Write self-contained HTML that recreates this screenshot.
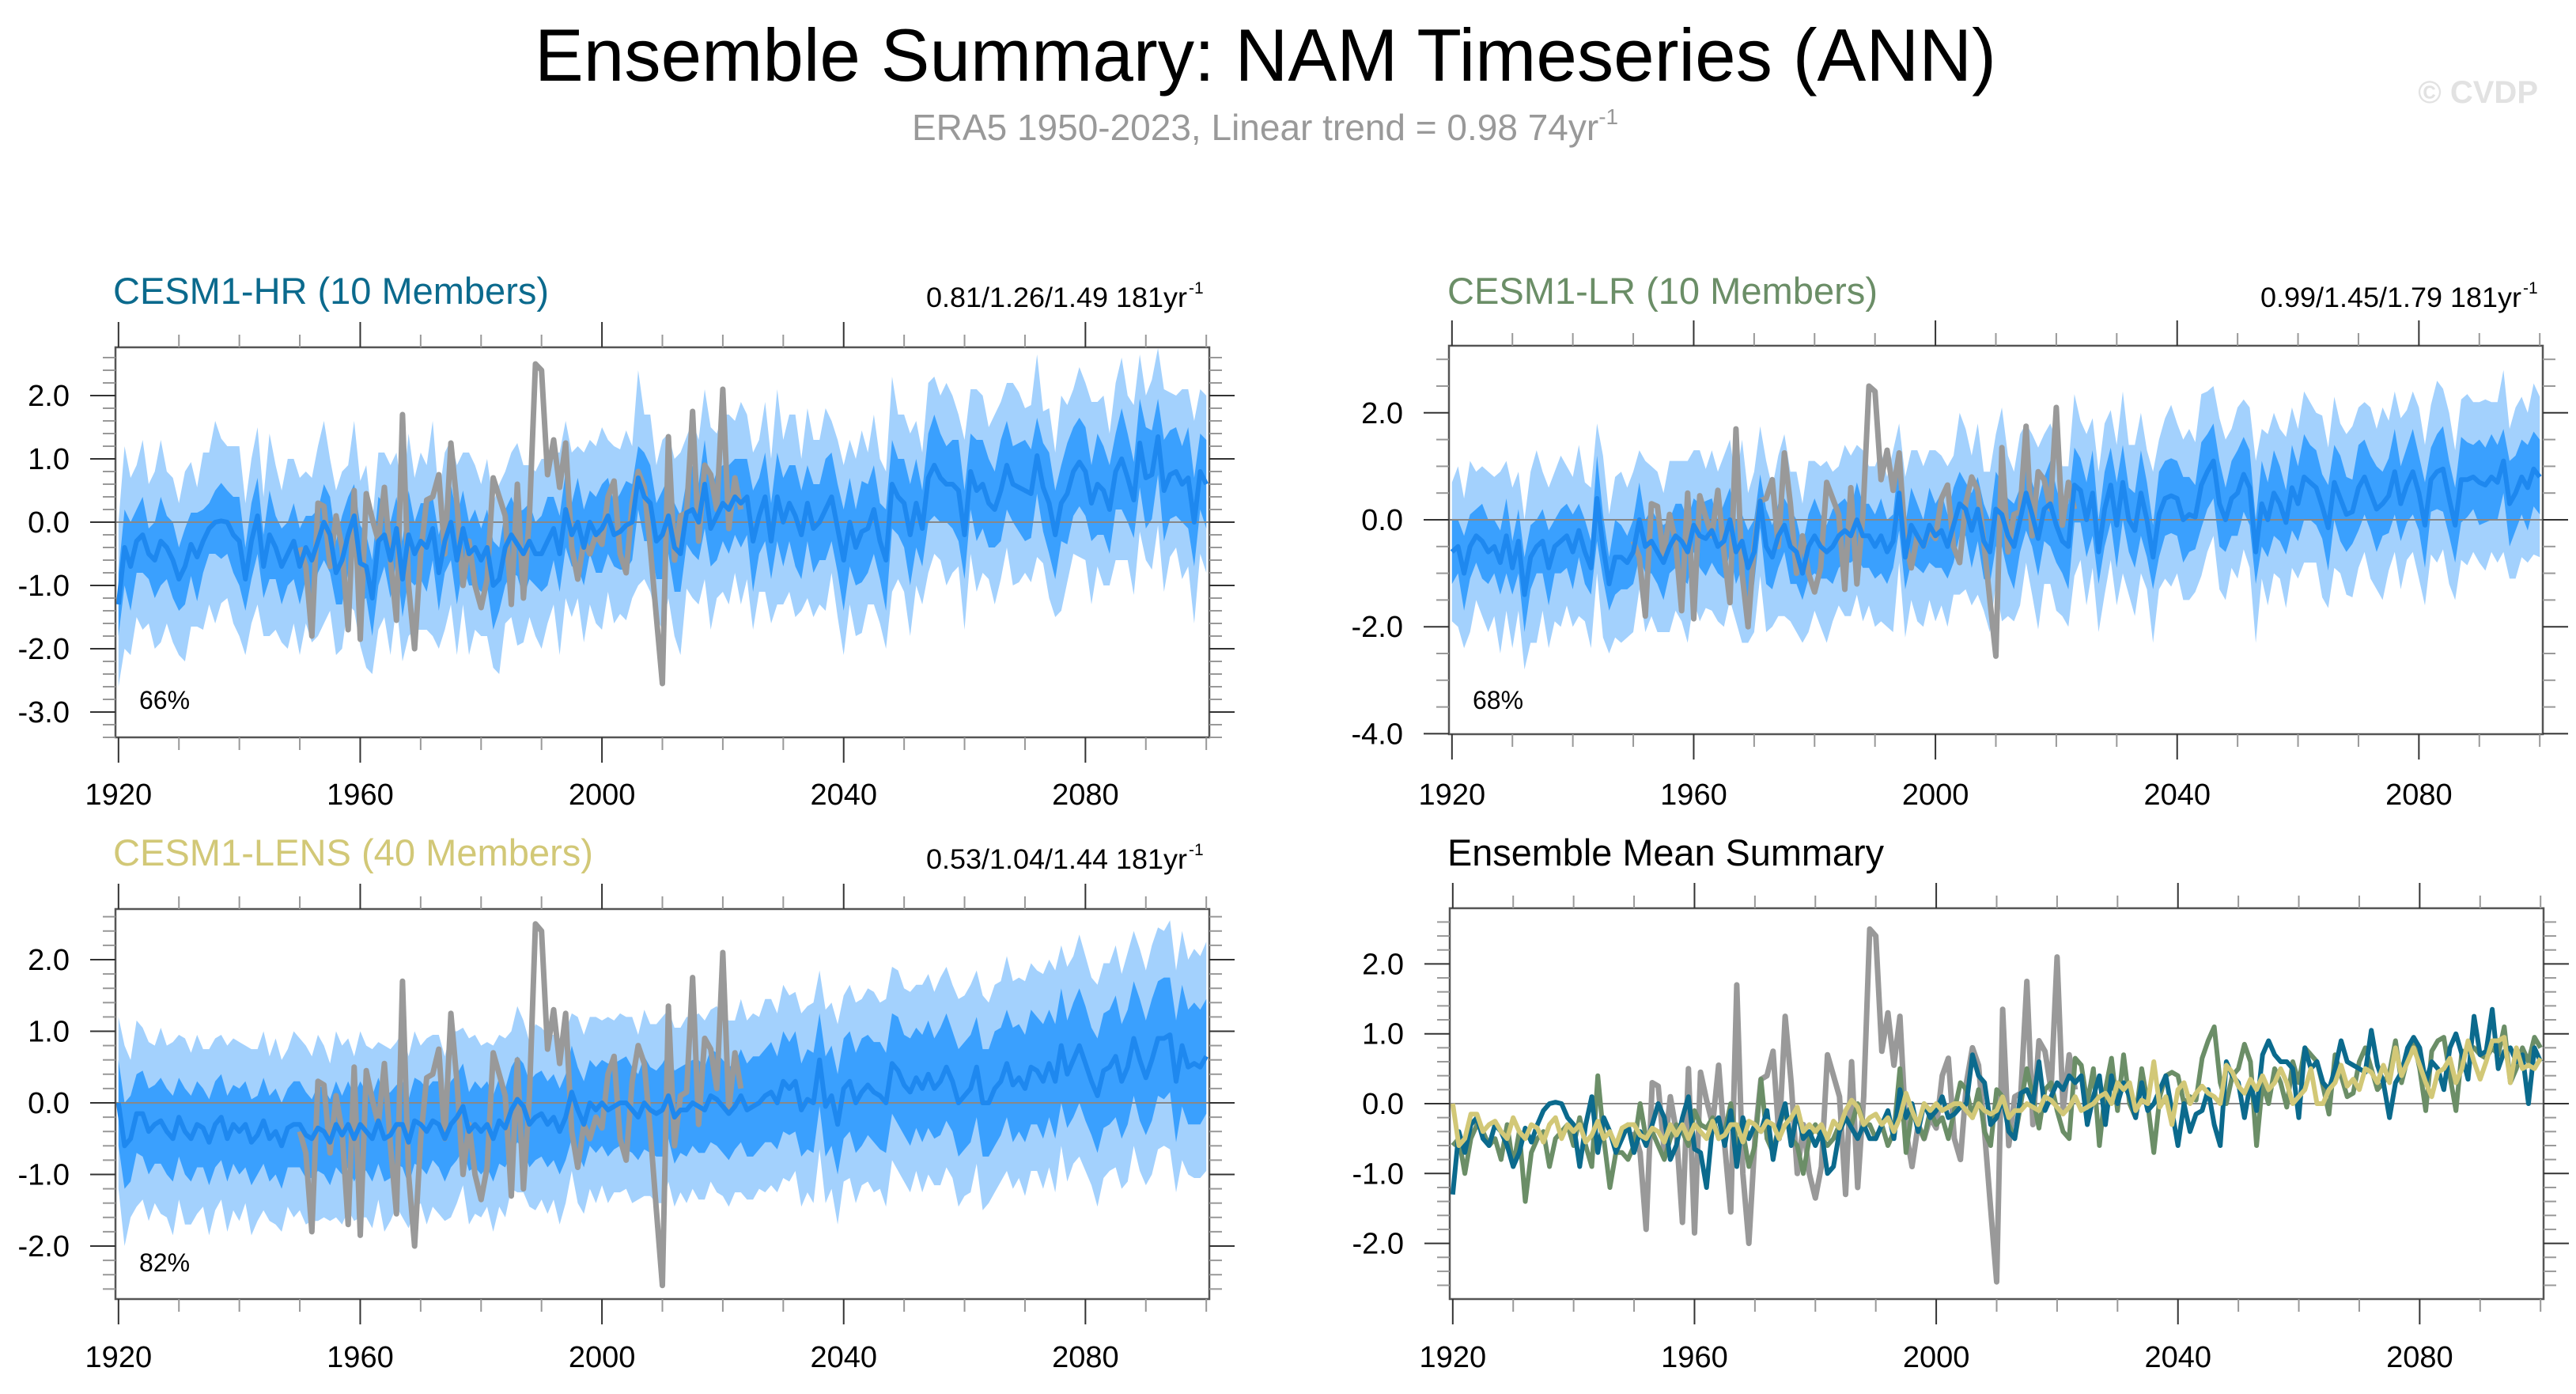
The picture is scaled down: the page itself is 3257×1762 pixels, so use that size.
<!DOCTYPE html>
<html><head><meta charset="utf-8"><title>Ensemble Summary: NAM Timeseries (ANN)</title>
<style>html,body{margin:0;padding:0;background:#fff}svg{display:block}text{font-family:"Liberation Sans",sans-serif}</style></head>
<body>
<svg id="chart" width="3257" height="1762" viewBox="0 0 3257 1762" xmlns="http://www.w3.org/2000/svg">
<text x="1600" y="102" font-size="94" text-anchor="middle" textLength="1848" lengthAdjust="spacingAndGlyphs">Ensemble Summary: NAM Timeseries (ANN)</text>
<text x="1153" y="177" font-size="46" fill="#999">ERA5 1950-2023, Linear trend = 0.98 74yr<tspan font-size="28" dy="-20">-1</tspan></text>
<text x="3209" y="130" font-size="40" font-weight="bold" fill="#e2e2e2" text-anchor="end">© CVDP</text>

<text x="143" y="384" font-size="47" fill="#0b6a8d" textLength="551" lengthAdjust="spacingAndGlyphs">CESM1-HR (10 Members)</text>
<text x="1171" y="388" font-size="35" textLength="330" lengthAdjust="spacingAndGlyphs">0.81/1.26/1.49 181yr</text><text x="1503" y="371" font-size="21">-1</text>
<text x="1830" y="384" font-size="47" fill="#6b8e67" textLength="544" lengthAdjust="spacingAndGlyphs">CESM1-LR (10 Members)</text>
<text x="2858" y="388" font-size="35" textLength="330" lengthAdjust="spacingAndGlyphs">0.99/1.45/1.79 181yr</text><text x="3190" y="371" font-size="21">-1</text>
<text x="143" y="1094" font-size="47" fill="#d2c877" textLength="607" lengthAdjust="spacingAndGlyphs">CESM1-LENS (40 Members)</text>
<text x="1171" y="1098" font-size="35" textLength="330" lengthAdjust="spacingAndGlyphs">0.53/1.04/1.44 181yr</text><text x="1503" y="1081" font-size="21">-1</text>
<text x="1830" y="1094" font-size="47" textLength="552" lengthAdjust="spacingAndGlyphs">Ensemble Mean Summary</text>
</svg>
<script>
const years0 = 1920;
const era5Years0 = 1950;
const era5 = [-0.4,-0.7,-1.8,0.3,0.25,-0.7,0.1,-0.4,-1.7,0.5,
-1.85,0.45,0.05,-0.3,0.55,-0.6,-1.55,1.7,-1.0,-2.0,
-0.5,0.35,0.4,0.75,-0.5,1.25,0.3,-1.0,-0.3,-1.0,
-1.35,-0.9,0.7,0.4,0.1,-1.3,0.6,-1.2,0.1,2.5,
2.4,0.75,1.3,0.55,1.25,-0.4,-0.9,-0.3,-0.5,-0.2,
-0.35,0.4,0.65,-0.5,-0.8,0.3,0.8,0.55,-0.4,-1.5,
-2.55,1.35,-0.6,0.1,0.15,1.75,-0.3,0.9,0.75,0.2,
2.1,-0.1,0.7,0.2];
const hrMean = [-1.3,-0.4,-0.7,-0.3,-0.2,-0.5,-0.6,-0.3,-0.4,-0.6,
-0.9,-0.7,-0.35,-0.55,-0.3,-0.1,0.0,0.02,0.0,-0.2,
-0.3,-0.9,-0.3,0.1,-0.7,-0.2,-0.4,-0.7,-0.5,-0.3,
-0.7,-0.4,-0.6,-0.3,0.0,-0.2,-0.8,-0.6,-0.2,0.1,
-0.65,-0.7,-1.2,-0.3,-0.2,-0.6,-0.1,-0.9,-0.2,-0.5,
-0.3,-0.4,-0.1,-0.8,-0.3,0.0,-0.6,-0.1,-0.5,-0.4,
-0.6,-0.4,-1.0,-0.9,-0.4,-0.2,-0.35,-0.5,-0.3,-0.5,
-0.5,-0.3,-0.1,-0.5,0.2,-0.2,0.0,-0.4,0.0,-0.2,
-0.1,0.1,-0.2,-0.15,-0.05,0.0,0.7,0.4,0.3,-0.3,
-0.2,0.1,-0.4,-0.5,0.15,0.2,0.0,0.6,-0.1,0.1,
0.3,0.2,0.4,0.3,0.4,-0.3,0.1,0.4,-0.3,0.4,
0.0,0.3,0.1,-0.2,0.3,-0.1,0.0,0.2,0.4,-0.1,
-0.6,0.0,-0.4,-0.15,-0.1,0.2,-0.3,-0.6,0.6,0.4,
0.3,-0.2,0.3,-0.1,0.7,0.9,0.7,0.6,0.6,0.5,
-0.2,0.8,0.5,0.6,0.3,0.2,0.5,0.9,0.6,0.55,
0.5,0.45,1.05,0.55,0.3,-0.2,0.3,0.45,0.8,0.95,
0.8,0.3,0.6,0.5,0.2,0.8,1.0,0.7,0.35,1.25,
0.7,0.75,1.35,0.5,0.75,0.8,0.6,0.7,0.0,0.8,
0.6];
const lrMean = [-0.6,-0.5,-1.0,-0.5,-0.3,-0.4,-0.6,-0.5,-0.8,-0.3,
-0.9,-0.4,-1.4,-0.7,-0.5,-0.4,-0.9,-0.5,-0.4,-0.3,
-0.6,-0.2,-0.6,-0.9,0.4,-0.5,-1.2,-0.7,-0.7,-0.8,
-0.6,0.0,-0.5,-0.4,-0.6,-0.8,-0.5,-0.3,-0.4,-0.6,
-0.1,-0.3,-0.35,-0.2,-0.5,-0.4,0.0,-0.6,-0.4,-0.9,
-0.6,0.35,-0.5,-0.7,-0.3,-0.1,-0.5,-0.6,-1.0,-0.5,
-0.3,-0.5,-0.6,-0.5,-0.3,-0.2,-0.3,0.0,-0.3,-0.3,
-0.5,-0.3,-0.6,-0.4,0.5,-0.7,-0.1,-0.3,-0.5,-0.1,
-0.3,-0.2,-0.5,-0.1,0.3,0.2,-0.2,0.2,-0.4,-0.6,
0.2,0.1,-0.3,-0.5,0.0,0.5,0.1,-0.35,0.2,0.3,
-0.1,-0.4,-0.5,0.65,0.55,0.0,0.5,-0.6,0.2,0.65,
-0.1,0.7,0.0,-0.2,0.5,0.0,-0.7,0.1,0.4,0.45,
0.4,0.0,0.1,0.05,0.65,0.9,1.1,0.3,0.0,0.4,
0.5,0.85,0.6,-0.6,0.3,0.0,0.5,0.3,-0.05,0.6,
0.3,0.8,0.7,0.6,0.25,-0.15,0.7,0.4,0.1,0.15,
0.6,0.8,0.5,0.2,0.3,0.45,0.9,0.3,0.65,0.9,
0.5,-0.1,0.75,0.9,0.95,0.4,-0.1,0.75,0.75,0.8,
0.7,0.65,0.8,0.7,1.1,0.3,0.5,0.8,0.6,0.95,
0.8];
const lensMean = [0.0,-0.6,-0.5,-0.15,-0.15,-0.4,-0.3,-0.25,-0.4,-0.5,
-0.2,-0.4,-0.5,-0.3,-0.35,-0.55,-0.3,-0.2,-0.5,-0.3,
-0.4,-0.3,-0.55,-0.45,-0.25,-0.5,-0.4,-0.6,-0.35,-0.3,
-0.3,-0.45,-0.5,-0.35,-0.4,-0.55,-0.3,-0.45,-0.3,-0.5,
-0.3,-0.4,-0.5,-0.25,-0.5,-0.45,-0.3,-0.3,-0.55,-0.25,
-0.3,-0.4,-0.25,-0.3,-0.5,-0.3,-0.2,-0.05,-0.4,-0.3,
-0.4,-0.3,-0.5,-0.25,-0.35,-0.1,0.05,-0.05,-0.3,-0.2,
-0.15,-0.3,-0.2,-0.4,-0.2,0.15,-0.1,-0.3,0.0,-0.1,
0.0,-0.1,-0.05,0.0,0.0,-0.1,-0.2,0.0,-0.1,-0.15,
-0.1,0.1,-0.2,-0.1,-0.1,0.0,-0.05,-0.1,0.1,0.05,
-0.05,-0.15,-0.05,0.1,-0.1,-0.05,0.0,0.1,0.15,0.0,
0.3,0.2,0.3,-0.1,0.05,0.0,0.6,-0.05,0.1,-0.3,
0.2,0.3,0.0,0.15,0.25,0.15,0.1,0.0,0.55,0.45,
0.25,0.15,0.35,0.2,0.4,0.2,0.3,0.5,0.3,0.0,
0.1,0.2,0.5,0.0,0.0,0.2,0.3,0.55,0.25,0.35,
0.2,0.5,0.45,0.3,0.55,0.3,0.8,0.4,0.6,0.8,
0.55,0.3,0.1,0.45,0.5,0.65,0.3,0.5,0.9,0.6,
0.35,0.6,0.9,0.9,0.95,0.3,0.8,0.5,0.55,0.5,
0.65];
const hrInner = [0.5,0.6,0.7,0.5,0.6,0.4,0.6,0.7,0.5,0.6,
0.5,0.6,0.5,0.7,0.5,0.4,0.5,0.6,0.5,0.6,
0.7,0.5,0.6,0.6,0.5,0.7,0.5,0.6,0.5,0.6,
0.6,0.5,0.7,0.5,0.6,0.6,0.5,0.7,0.6,0.5,
0.6,0.5,0.6,0.7,0.5,0.6,0.5,0.6,0.7,0.5,
0.6,0.7,0.5,0.6,0.5,0.6,0.7,0.6,0.5,0.6,
0.5,0.6,0.7,0.5,0.6,0.6,0.5,0.7,0.6,0.5,
0.6,0.7,0.5,0.6,0.6,0.5,0.7,0.6,0.5,0.6,
0.7,0.6,0.5,0.6,0.7,0.6,0.5,0.7,0.6,0.6,
0.7,0.6,0.7,0.6,0.5,0.7,0.6,0.7,0.6,0.7,
0.6,0.7,0.6,0.7,0.6,0.8,0.6,0.7,0.6,0.7,
0.7,0.6,0.8,0.7,0.6,0.7,0.6,0.8,0.7,0.7,
0.8,0.7,0.6,0.8,0.7,0.7,0.6,0.8,0.7,0.6,
0.7,0.8,0.7,0.6,0.7,0.8,0.7,0.6,0.7,0.8,
0.7,0.6,0.8,0.7,0.7,0.6,0.8,0.7,0.6,0.7,
0.8,0.7,0.6,0.7,0.8,0.7,0.6,0.8,0.7,0.7,
0.7,0.6,0.8,0.7,0.7,0.6,0.8,0.7,0.6,0.7,
0.8,0.7,0.6,0.8,0.7,0.7,0.6,0.8,0.7,0.6,
0.7];
const hrOuter = [1.3,1.6,1.4,1.2,1.5,1.1,1.4,1.6,1.2,1.3,
1.2,1.5,1.3,1.1,1.4,1.2,1.6,1.3,1.2,1.4,
1.5,1.2,1.3,1.4,1.1,1.6,1.3,1.2,1.5,1.3,
1.4,1.2,1.3,1.5,1.6,1.2,1.3,1.4,1.1,1.5,
1.3,1.6,1.2,1.4,1.3,1.5,1.2,1.3,1.6,1.2,
1.4,1.3,1.7,1.2,1.4,1.3,1.5,1.2,1.6,1.3,
1.2,1.4,1.3,1.5,1.2,1.3,1.6,1.4,1.2,1.3,
1.5,1.3,1.2,1.6,1.4,1.3,1.2,1.5,1.3,1.4,
1.6,1.2,1.4,1.3,1.5,1.2,1.7,1.3,1.4,1.2,
1.5,1.3,1.4,1.6,1.2,1.4,1.3,1.5,1.6,1.3,
1.4,1.5,1.2,1.6,1.3,1.4,1.2,1.5,1.3,1.7,
1.3,1.4,1.6,1.2,1.5,1.4,1.3,1.6,1.2,1.4,
1.5,1.3,1.4,1.6,1.2,1.5,1.3,1.4,1.7,1.3,
1.4,1.6,1.3,1.2,1.5,1.4,1.3,1.6,1.4,1.2,
1.5,1.3,1.6,1.4,1.2,1.5,1.4,1.3,1.6,1.5,
1.3,1.4,1.6,1.2,1.5,1.3,1.7,1.4,1.3,1.5,
1.4,1.6,1.3,1.5,1.2,1.4,1.6,1.3,1.5,1.4,
1.3,1.5,1.4,1.6,1.3,1.2,1.5,1.4,1.6,1.3,
1.4];
const lrInner = [0.6,0.5,0.7,0.6,0.5,0.7,0.6,0.5,0.6,0.7,
0.5,0.6,0.7,0.6,0.5,0.6,0.7,0.5,0.6,0.6,
0.7,0.5,0.6,0.5,0.8,0.6,0.5,0.7,0.6,0.5,
0.6,0.7,0.5,0.6,0.6,0.7,0.5,0.6,0.7,0.6,
0.5,0.6,0.7,0.6,0.5,0.7,0.6,0.6,0.5,0.7,
0.6,0.5,0.7,0.6,0.6,0.5,0.7,0.6,0.5,0.6,
0.7,0.6,0.5,0.7,0.6,0.6,0.5,0.7,0.6,0.6,
0.6,0.7,0.6,0.5,0.7,0.6,0.7,0.6,0.5,0.7,
0.6,0.7,0.6,0.7,0.6,0.5,0.7,0.6,0.7,0.6,
0.7,0.6,0.7,0.8,0.6,0.7,0.6,0.7,0.6,0.8,
0.7,0.6,0.8,0.7,0.6,0.7,0.8,0.6,0.7,0.7,
0.8,0.7,0.6,0.7,0.8,0.7,0.6,0.8,0.7,0.7,
0.7,0.8,0.7,0.6,0.8,0.7,0.7,0.8,0.6,0.7,
0.8,0.7,0.7,0.6,0.8,0.7,0.8,0.7,0.6,0.8,
0.7,0.8,0.7,0.7,0.6,0.8,0.7,0.8,0.7,0.6,
0.8,0.7,0.7,0.8,0.6,0.7,0.8,0.7,0.7,0.8,
0.7,0.8,0.6,0.7,0.8,0.7,0.7,0.8,0.7,0.6,
0.8,0.7,0.8,0.7,0.6,0.8,0.7,0.7,0.8,0.7,
0.7];
const lrOuter = [1.3,1.5,1.4,1.6,1.2,1.4,1.5,1.3,1.7,1.4,
1.5,1.3,1.4,1.6,1.8,1.3,1.5,1.4,1.6,1.3,
1.4,1.6,1.3,1.5,1.4,1.7,1.3,1.5,1.6,1.4,
1.5,1.3,1.6,1.4,1.5,1.3,1.6,1.4,1.5,1.7,
1.4,1.6,1.3,1.5,1.4,1.6,1.5,1.3,1.9,1.4,
1.5,1.4,1.6,1.3,1.5,1.7,1.4,1.5,1.3,1.6,
1.4,1.5,1.7,1.4,1.3,1.6,1.5,1.4,1.6,1.3,
1.5,1.6,1.4,1.7,1.3,1.5,1.4,1.6,1.5,1.4,
1.6,1.4,1.5,1.3,1.7,1.5,1.4,1.6,1.3,1.5,
1.4,2.0,1.5,1.4,1.6,1.3,1.5,1.7,1.4,1.5,
1.6,1.4,1.5,1.7,1.3,1.6,1.4,1.5,1.6,1.4,
1.5,1.7,1.4,1.6,1.5,1.3,1.6,1.4,1.5,1.7,
1.4,1.5,1.6,1.4,1.7,1.5,1.4,1.6,1.5,1.3,
1.6,1.4,1.5,1.7,1.4,1.6,1.5,1.4,1.6,1.5,
1.4,1.6,1.5,1.4,1.7,1.5,1.6,1.4,1.5,1.6,
1.5,1.4,1.6,1.5,1.8,1.4,1.5,1.6,1.4,1.5,
1.6,1.5,1.4,1.7,1.5,1.6,1.4,1.5,1.6,1.4,
1.5,1.6,1.4,1.5,1.7,1.4,1.6,1.5,1.4,1.6,
1.5];
const lensInner = [0.6,0.6,0.6,0.55,0.6,0.6,0.55,0.6,0.6,0.6,
0.55,0.6,0.6,0.6,0.55,0.6,0.6,0.6,0.6,0.55,
0.6,0.6,0.6,0.55,0.6,0.6,0.6,0.6,0.55,0.6,
0.6,0.6,0.55,0.6,0.6,0.6,0.6,0.55,0.6,0.6,
0.6,0.55,0.6,0.6,0.6,0.6,0.55,0.6,0.6,0.6,
0.6,0.6,0.55,0.6,0.6,0.6,0.6,0.6,0.55,0.6,
0.6,0.6,0.6,0.6,0.55,0.6,0.6,0.6,0.6,0.6,
0.6,0.6,0.6,0.6,0.6,0.65,0.6,0.6,0.6,0.6,
0.6,0.65,0.6,0.6,0.65,0.6,0.6,0.65,0.6,0.6,
0.65,0.6,0.65,0.6,0.65,0.6,0.65,0.6,0.65,0.65,
0.65,0.65,0.6,0.65,0.65,0.7,0.65,0.65,0.7,0.65,
0.7,0.65,0.7,0.65,0.7,0.7,0.65,0.7,0.7,0.7,
0.7,0.7,0.7,0.75,0.7,0.7,0.75,0.7,0.7,0.75,
0.7,0.75,0.7,0.75,0.75,0.7,0.75,0.75,0.7,0.75,
0.75,0.75,0.7,0.75,0.75,0.8,0.75,0.75,0.8,0.75,
0.75,0.8,0.75,0.8,0.75,0.8,0.8,0.75,0.8,0.8,
0.8,0.75,0.8,0.8,0.8,0.85,0.8,0.8,0.8,0.85,
0.8,0.85,0.8,0.85,0.8,0.85,0.85,0.8,0.85,0.8,
0.8];
const lensOuter = [1.2,1.4,1.1,1.3,1.2,1.25,1.1,1.3,1.2,1.35,
1.15,1.3,1.2,1.25,1.1,1.3,1.2,1.15,1.3,1.2,
1.25,1.1,1.3,1.2,1.25,1.15,1.3,1.2,1.1,1.3,
1.2,1.25,1.15,1.3,1.2,1.1,1.3,1.25,1.2,1.15,
1.3,1.2,1.25,1.1,1.3,1.2,1.15,1.3,1.2,1.25,
1.1,1.3,1.2,1.25,1.15,1.3,1.2,1.1,1.3,1.25,
1.2,1.15,1.3,1.2,1.25,1.1,1.3,1.2,1.15,1.3,
1.2,1.25,1.15,1.3,1.2,1.1,1.3,1.25,1.2,1.3,
1.15,1.3,1.2,1.25,1.2,1.3,1.15,1.3,1.2,1.25,
1.3,1.2,1.25,1.15,1.3,1.2,1.3,1.25,1.2,1.3,
1.25,1.3,1.2,1.35,1.25,1.3,1.2,1.35,1.3,1.25,
1.35,1.3,1.25,1.35,1.3,1.4,1.25,1.35,1.3,1.4,
1.3,1.35,1.4,1.3,1.35,1.4,1.3,1.45,1.35,1.4,
1.35,1.4,1.3,1.45,1.4,1.35,1.45,1.4,1.35,1.45,
1.4,1.45,1.35,1.5,1.4,1.45,1.4,1.5,1.45,1.4,
1.5,1.45,1.4,1.5,1.45,1.55,1.4,1.5,1.45,1.55,
1.5,1.45,1.55,1.5,1.45,1.55,1.5,1.6,1.5,1.55,
1.5,1.6,1.55,1.5,1.6,1.55,1.6,1.5,1.6,1.55,
1.6];
const hrTicks = ["2.0","1.0","0.0","-1.0","-2.0","-3.0"];
const lrTicks = ["2.0","0.0","-2.0","-4.0"];
const lensTicks = ["2.0","1.0","0.0","-1.0","-2.0"];
const meanTicks = ["2.0","1.0","0.0","-1.0","-2.0"];
const xTickLabels = ["1920","1960","2000","2040","2080"];

const NS = 'http://www.w3.org/2000/svg';
const svg = document.getElementById('chart');
function mk(tag, attrs, parent){const e=document.createElementNS(NS,tag);for(const k in attrs)e.setAttribute(k,attrs[k]);(parent||svg).appendChild(e);return e;}

function panel(cfg){
  const g = mk('g',{});
  
  
  const xS = yr => cfg.x0 + (yr - 1919.5) / 181 * (cfg.x1 - cfg.x0);
  const yS = v => cfg.zero - v * cfg.unit;
  const ymax = (cfg.zero - cfg.y0) / cfg.unit, ymin = -(cfg.y1 - cfg.zero) / cfg.unit;
  function band(mean, spread, color, nm){
    let top='', bot='';
    for(let i=0;i<mean.length;i++){top += (i?'L':'M') + xS(years0+i).toFixed(1)+','+yS(mean[i]+spread[i]).toFixed(1);}
    for(let i=mean.length-1;i>=0;i--){bot += 'L' + xS(years0+i).toFixed(1)+','+yS(mean[i]-spread[i]).toFixed(1);}
    const p = mk('path',{d:top+bot+'Z',fill:color,stroke:'none'},g);
    
    
  }
  if(cfg.mean){
    band(cfg.mean, cfg.outer, '#a3d1fd', 'outer-spread-band');
    band(cfg.mean, cfg.inner, '#3aa0fe', 'inner-spread-band');
  }
  const zl = mk('line',{x1:cfg.x0,x2:cfg.x1+30,y1:yS(0),y2:yS(0),stroke:'#888','stroke-width':2},g);
  
  
  function line(vals, start, color, w, nm){
    let d='';
    for(let i=0;i<vals.length;i++) d += (i?'L':'M') + xS(start+i).toFixed(1)+','+yS(vals[i]).toFixed(1);
    const p = mk('path',{d:d,fill:'none',stroke:color,'stroke-width':w,'stroke-linejoin':'round'},g);
    
    
  }
  line(era5, era5Years0, '#999999', 7, 'era5-line');
  if(cfg.mean) line(cfg.mean, years0, '#1e88ef', 6, 'ensemble-mean-line');
  if(cfg.lines){ for(const L of cfg.lines) line(L.vals, years0, L.color, 6, L.name); }
  const fr = mk('rect',{x:cfg.x0,y:cfg.y0,width:cfg.x1-cfg.x0,height:cfg.y1-cfg.y0,fill:'none',stroke:'#555','stroke-width':2.5},g);
  
  
  for(let yr=1920; yr<=2100; yr+=10){
    const x = xS(yr), major = (yr-1920)%40===0;
    const len = major?32:16, c = major?'#333':'#999';
    mk('line',{x1:x,x2:x,y1:cfg.y0,y2:cfg.y0-len,stroke:c,'stroke-width':2},g);
    mk('line',{x1:x,x2:x,y1:cfg.y1,y2:cfg.y1+len,stroke:c,'stroke-width':2},g);
  }
  xTickLabels.forEach(lbl=>{
    const t = mk('text',{x:xS(+lbl),y:cfg.xLabY,'font-size':38,'text-anchor':'middle'},g);
    t.textContent = lbl;
    
    
  });
  const nMin = Math.ceil(ymin/cfg.minor-1e-6), nMax = Math.floor(ymax/cfg.minor+1e-6);
  for(let n=nMin;n<=nMax;n++){
    const v = n*cfg.minor, y = yS(v);
    const major = Math.abs(v/cfg.major - Math.round(v/cfg.major))<1e-6;
    const len = major?32:16, c = major?'#333':'#999';
    mk('line',{x1:cfg.x0,x2:cfg.x0-len,y1:y,y2:y,stroke:c,'stroke-width':2},g);
    mk('line',{x1:cfg.x1,x2:cfg.x1+len,y1:y,y2:y,stroke:c,'stroke-width':2},g);
  }
  cfg.ticks.forEach(lbl=>{
    const t = mk('text',{x:cfg.x0-58,y:yS(+lbl)+13,'font-size':38,'text-anchor':'end'},g);
    t.textContent = lbl;
    
    
  });
  if(cfg.pct){
    const t = mk('text',{x:cfg.x0+30,y:cfg.pctY,'font-size':32},g);
    t.textContent = cfg.pct;
    
    
  }
}

panel({name:'cesm1-hr-panel',x0:146,x1:1529,y0:439,y1:932,zero:660,unit:80,minor:0.2,major:1,ticks:hrTicks,mean:hrMean,inner:hrInner,outer:hrOuter,pct:'66%',pctY:896,xLabY:1017});
panel({name:'cesm1-lr-panel',x0:1832,x1:3215,y0:437,y1:928,zero:657,unit:67.6,minor:0.5,major:2,ticks:lrTicks,mean:lrMean,inner:lrInner,outer:lrOuter,pct:'68%',pctY:896,xLabY:1017});
panel({name:'cesm1-lens-panel',x0:146,x1:1529,y0:1149,y1:1642,zero:1394,unit:90.5,minor:0.2,major:1,ticks:lensTicks,mean:lensMean,inner:lensInner,outer:lensOuter,pct:'82%',pctY:1607,xLabY:1728});
panel({name:'ensemble-mean-panel',x0:1833,x1:3216,y0:1148,y1:1642,zero:1395,unit:88.3,minor:0.2,major:1,ticks:meanTicks,xLabY:1728,
  lines:[{vals:lrMean,color:'#6b8e67',name:'lr-mean-line'},{vals:hrMean,color:'#0b6a8d',name:'hr-mean-line'},{vals:lensMean,color:'#d2c877',name:'lens-mean-line'}]});
</script>
</body></html>
